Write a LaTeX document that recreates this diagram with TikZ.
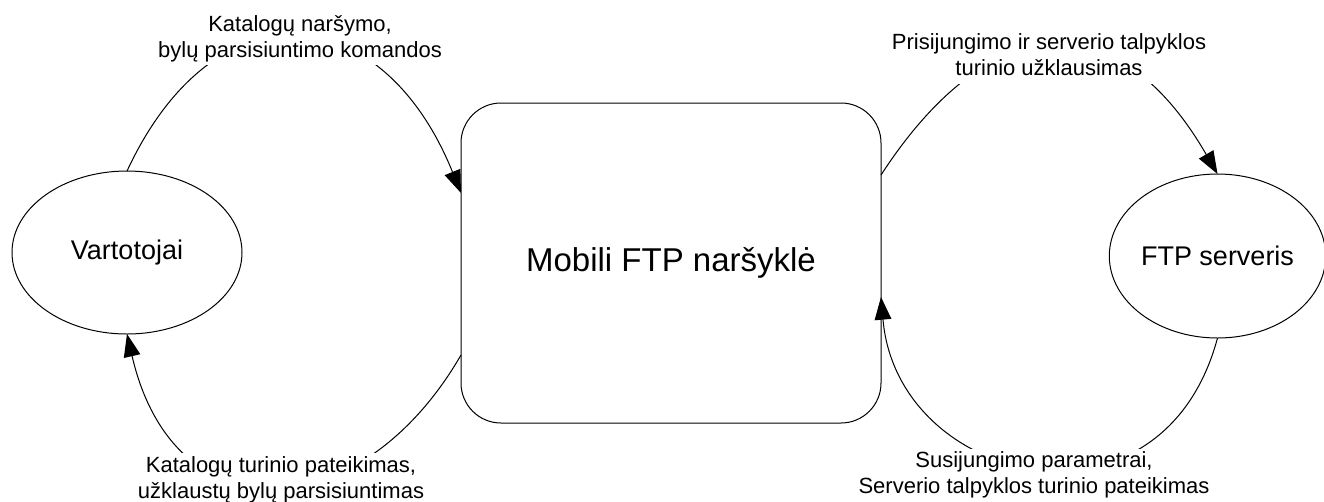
\documentclass[tikz,border=0pt]{standalone}
\usepackage{fontspec}
\setmainfont{Liberation Sans}
\usetikzlibrary{shapes.geometric,arrows.meta,calc}

\tikzset{
  actor/.style={ellipse, draw, line width=0.75pt, inner sep=0pt, outer sep=0pt,
    font=\fontsize{20.25}{24}\selectfont},
  system/.style={rectangle, draw, line width=0.75pt, rounded corners=30pt,
    inner sep=0pt, outer sep=0pt, minimum width=315pt, minimum height=240pt,
    font=\fontsize{24.75}{29}\selectfont},
  flow/.style={line width=0.75pt, -{Triangle[length=17pt,width=12.5pt]}},
  flowlabel/.style={fill=white, inner sep=0.5pt, align=center,
    font=\fontsize{16.5}{19.5}\selectfont}
}

\begin{document}
\begin{tikzpicture}[x=0.75pt, y=0.75pt]
  \useasboundingbox (0,0) rectangle (1324,-501);

  % external entities and the system
  \node[actor, minimum width=172.5pt, minimum height=122.25pt] (vart) at (127,-252.5) {Vartotojai};
  \node[system] (mob) at (671,-263) {Mobili FTP naršyklė};
  \node[actor, minimum width=159pt, minimum height=123pt] (ftp) at (1217.5,-256) {FTP serveris};

  % data flows
  \draw[flow] (vart.north) .. controls +(65:210) and +(112:210) .. ($(mob.west)+(0,70)$);
  \draw[flow] ($(mob.west)+(0,-92)$) .. controls +(240:200) and +(-77:210) .. (vart.south);
  \draw[flow] ($(mob.east)+(0,88)$) .. controls +(57:200) and +(120:200) .. (ftp.north);
  \draw[flow] (ftp.south) .. controls +(255:215) and +(-85:190) .. ($(mob.east)+(0,-34)$);

  % flow labels
  \node[flowlabel] (cmd) at (300,-38.8) {Katalogų naršymo,\strut\\bylų parsisiuntimo komandos\strut};
  \node[flowlabel] (resp) at (281,-480) {Katalogų turinio pateikimas,\strut\\užklaustų bylų parsisiuntimas\strut};
  \node[flowlabel] (req) at (1049,-57.2) {Prisijungimo ir serverio talpyklos\strut\\turinio užklausimas\strut};
  \node[flowlabel] (srv) at (1034,-475.3) {Susijungimo parametrai,\strut\\Serverio talpyklos turinio pateikimas\strut};
\end{tikzpicture}
\end{document}
